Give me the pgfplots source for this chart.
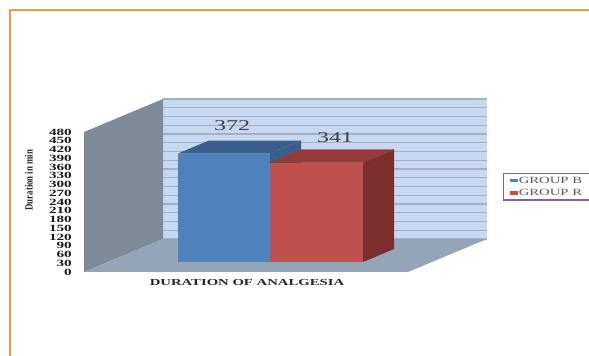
\documentclass[border=0pt]{standalone}
\usepackage{pgfplots}
\usepackage{fontspec}
\pgfplotsset{compat=1.18}
\setmainfont{Liberation Serif}
\newfontfamily\widefont[FakeStretch=1.6]{Liberation Serif}
\newfontfamily\legendfont[FakeStretch=1.55]{Liberation Serif}
\newfontfamily\narrowfont[FakeStretch=0.8]{Liberation Serif}

\definecolor{wallback}{HTML}{C6D9F0}
\definecolor{wallgrid}{HTML}{A3AFC2}
\definecolor{wallside}{HTML}{7F8A99}
\definecolor{floorcol}{HTML}{95A5B8}
\definecolor{blueF}{HTML}{4F81BD}
\definecolor{blueT}{HTML}{3A5F8C}
\definecolor{redF}{HTML}{C0504D}
\definecolor{redT}{HTML}{953A38}
\definecolor{redS}{HTML}{7A2F2D}
\definecolor{frameorange}{HTML}{F79646}
\definecolor{legendline}{HTML}{8064A2}

\begin{document}
\begin{tikzpicture}[x=1pt,y=1pt]
\useasboundingbox (0,0) rectangle (589,356);

% outer frame, open on the right and at the bottom
\fill[frameorange] (8.5,0) rectangle (10.5,346.5);
\fill[frameorange] (8.5,345) rectangle (589,346.5);

% back wall with its grid lines
\begin{axis}[
  at={(163pt,117pt)}, anchor=south west,
  scale only axis, width=324pt, height=140pt,
  xmin=163, xmax=487, ymin=0, ymax=480,
  xtick=\empty, ytick={0,30,...,480},
  yticklabels={}, major tick length=0pt,
  ymajorgrids, grid style={wallgrid,line width=1.1pt},
  axis line style={draw=none},
  axis background/.style={fill=wallback},
]
\addplot[draw=none] coordinates {(163,0) (487,480)};
\end{axis}

% side wall, floor, value scale and axis titles
\begin{axis}[
  at={(84pt,84pt)}, anchor=south west,
  scale only axis, width=505pt, height=140pt,
  xmin=84, xmax=589, ymin=0, ymax=480,
  clip=false,
  xtick=\empty, ytick={0,30,...,480},
  major tick length=0pt,
  axis line style={draw=none},
  /pgf/number format/assume math mode=true,
  yticklabel style={font=\widefont\bfseries\fontsize{9.5}{9.5}\selectfont,
    text=black!90, inner sep=0pt, xshift=-12pt},
]
\addplot[fill=wallside,draw=none] coordinates {(84,0) (163,113.14) (163,593.14) (84,480)} --cycle;
\addplot[fill=floorcol,draw=none] coordinates {(84,0) (163,113.14) (487,113.14) (408,0)} --cycle;
\node[font=\widefont\bfseries\fontsize{9.2}{9.2}\selectfont,text=black!85]
  at (axis cs:247,-37.7) {DURATION OF ANALGESIA};
\node[rotate=90,font=\narrowfont\bfseries\fontsize{11}{11}\selectfont,text=black!85]
  at (axis cs:29,315) {Duration in min};
\end{axis}

% bars: value 0 sits on the floor at the depth of the bars
\begin{axis}[
  at={(84pt,84pt)}, anchor=south west,
  scale only axis, width=505pt, height=140pt,
  xmin=84, xmax=589, ymin=-34.29, ymax=445.71,
  clip=false, hide axis,
  legend style={at={(0.8297,0.707)}, anchor=north west,
    draw=legendline, line width=1.1pt, fill=white,
    font=\legendfont\fontsize{9.5}{10}\selectfont, text=black!65,
    inner xsep=6pt, inner ysep=2pt, row sep=2pt,
    nodes={inner sep=1.2pt}},
  legend cell align=left,
  legend image code/.code={\fill[#1] (0pt,-1.8pt) rectangle (8pt,1.8pt);},
]
% GROUP B
\addplot[fill=blueT,draw=none,forget plot] coordinates {(270,372) (301,416.57) (301,300) (270,300)} --cycle;
\addplot[fill=blueT,draw=none,forget plot] coordinates {(178,372) (209,416.57) (301,416.57) (270,372)} --cycle;
\addplot[fill=blueF,draw=none] coordinates {(178,0) (270,0) (270,372) (178,372)} --cycle;
\addlegendentry{GROUP B}
% GROUP R
\addplot[fill=redS,draw=none,forget plot] coordinates {(363,0) (394,44.57) (394,385.57) (363,341)} --cycle;
\addplot[fill=redT,draw=redT,line width=0.3pt,forget plot] coordinates {(270,341) (301,385.57) (394,385.57) (363,341)} --cycle;
\addplot[fill=redF,draw=none] coordinates {(270,0) (363,0) (363,341) (270,341)} --cycle;
\addlegendentry{GROUP R}
\node[font=\widefont\fontsize{15}{15}\selectfont,text=black!75] at (axis cs:232,466) {372};
\node[font=\widefont\fontsize{15}{15}\selectfont,text=black!75] at (axis cs:335,425) {341};
\end{axis}
\end{tikzpicture}
\end{document}
